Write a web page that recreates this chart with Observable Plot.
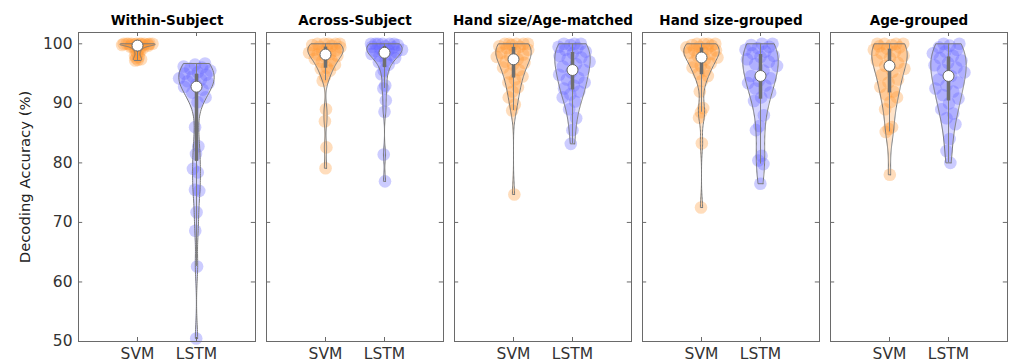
<!DOCTYPE html>
<html><head><meta charset="utf-8">
<script src="https://cdn.jsdelivr.net/npm/d3@7"></script>
<script src="https://cdn.jsdelivr.net/npm/@observablehq/plot@0.6"></script>
<style>
body{margin:0;background:#fff;}
#chart{width:1009px;height:363px;overflow:hidden;}
</style>
</head><body><div id="chart"></div>
<script>
// ---- data ----
const panels = ["Within-Subject", "Across-Subject", "Hand size/Age-matched", "Hand size-grouped", "Age-grouped"];
const methods = ["SVM", "LSTM"];
const yTicks = [50, 60, 70, 80, 90, 100];
const methodColors = ["#FF9933", "#6464FF"];

const withinSVM = [100,100,100,100,100,100,100,100,100,100,99.9,99.9,99.8,99.8,99.7,99.7,99.6,99.5,99.4,99.3,99.2,99,98.8,98.6,98.3,98,97.8,97.6,97.4,97.3,97.2];
const withinLSTM = [96.7,96.5,96.2,96,95.8,95.5,95.2,95,94.8,94.5,94.2,94,93.7,93.4,93.1,92.8,92.3,91.8,91,90.2,86,82.8,81.5,79,78.4,75.5,75.3,71.7,68.6,62.6,50.5];
const acrossSVM = [100,100,100,100,100,99.8,99.7,99.5,99.4,99.2,99,98.9,98.7,98.5,98.3,98.2,98,97.8,97.5,97.2,97,96.5,96,95.8,95.5,94.5,93.8,89,87,82.6,79.1];
const acrossLSTM = [100,100,100,100,100,100,99.8,99.6,99.5,99.4,99.2,99,98.9,98.8,98.6,98.5,98.3,98.2,98,97.6,97.2,96.9,96.5,95.5,94.9,93,92.5,90.5,88.6,81.4,76.9];
const matchedSVM = [100,100,100,100,100,99.8,99.6,99.5,99.3,99,98.8,98.5,98.2,98,97.8,97.4,97,96.8,96.5,96,95.6,95,94.5,94,93.5,92.7,92,91,89.8,88.8,74.7];
const matchedLSTM = [100,100,100,99.8,99.5,99.3,99,98.7,98.4,98,97.7,97.4,97,96.6,96.2,95.6,95.2,94.8,94.3,94,93.5,93,92.5,92,91.5,91,90.3,89,87.5,85.5,83.2];
const handSVM = [100,100,100,100,99.8,99.7,99.5,99.4,99.2,99,98.9,98.7,98.5,98.3,98,97.7,97.4,97,96.7,96.3,96,95.5,95,94.6,93.8,92,89.2,88.5,87.6,83.3,72.5];
const handLSTM = [100,100,99.8,99.5,99.3,99,98.7,98.4,98,97.8,97.4,97,96.6,96.3,95.5,94.6,94.2,93.8,93.4,93,92.5,91.8,91,90.4,88,86.2,85.5,81.2,80.4,79.8,76.5];
const ageSVM = [100,100,100,100,99.8,99.6,99.4,99.2,99,98.7,98.4,98,97.6,97.2,96.8,96.3,95.8,95.3,94.8,94,93.5,92.8,92,91.5,91,90.2,89,86,85.7,85.2,78];
const ageLSTM = [100,100,99.7,99.4,99,98.7,98.4,98,97.6,97.2,96.8,96.4,96,95.6,95.2,94.6,94,93.5,93,92.5,92,91.4,90.8,90,89,88.3,87.5,86.5,84,82,80];

const groups = [
  [withinSVM, withinLSTM],
  [acrossSVM, acrossLSTM],
  [matchedSVM, matchedLSTM],
  [handSVM, handLSTM],
  [ageSVM, ageLSTM]
];

// ---- derived (KDE violins, jitter, box stats) ----
const violinWidth = 0.3;
function bandwidth(v) {
  const med = d3.median(v);
  let sig = d3.median(v, x => Math.abs(x - med)) / 0.6745;
  if (!(sig > 0)) sig = (d3.max(v) - d3.min(v)) || 1;
  return sig * Math.pow(4 / (3 * v.length), 0.2);
}
function kde(v, bw) {
  return y => d3.mean(v, x => Math.exp(-0.5 * ((y - x) / bw) ** 2)) / bw;
}

const points = [], areaRows = [], outlineRows = [], stats = [];
groups.forEach((pair, pi) => {
  pair.forEach((vals, mi) => {
    const panel = panels[pi], method = methods[mi], pos = mi + 1, key = panel + "|" + method;
    const bw = bandwidth(vals);
    const f = kde(vals, bw);
    const lo = d3.min(vals), hi = d3.max(vals);
    const N = 120;
    const grid = d3.range(N + 1).map(i => lo + (hi - lo) * i / N);
    const dens = grid.map(f);
    const dmax = d3.max(dens);
    const hw = y => f(y) / dmax * violinWidth;
    grid.forEach((y, i) => {
      const w = dens[i] / dmax * violinWidth;
      areaRows.push({panel, method, key, y, xl: pos - w, xr: pos + w});
    });
    const right = grid.map((y, i) => ({panel, key, y, x: pos + dens[i] / dmax * violinWidth}));
    const left = grid.map((y, i) => ({panel, key, y, x: pos - dens[i] / dmax * violinWidth})).reverse();
    outlineRows.push(...right, ...left, right[0]);
    vals.forEach((v, i) => {
      const u = ((i + 1) * 0.6180339887 + pi * 0.37 + mi * 0.21) % 1;
      points.push({panel, method, value: v, x: pos + (2 * u - 1) * hw(v)});
    });
    const s = vals.slice().sort(d3.ascending);
    const q1 = d3.quantile(s, 0.25), q3 = d3.quantile(s, 0.75), iqr = q3 - q1;
    const wlo = d3.min(s.filter(v => v >= q1 - 1.5 * iqr));
    const whi = d3.max(s.filter(v => v <= q3 + 1.5 * iqr));
    stats.push({panel, method, pos, q1, q3, wlo, whi, median: d3.median(s)});
  });
});

// ---- layout ----
const W = 1009, H = 363, mL = 77, mR = 2, mT = 32, mB = 22, padIn = 0.061;
const FW = (W - mL - mR) / (panels.length - padIn) * (1 - padIn);
const FH = H - mT - mB;
const tickLen = 4;
const axisColor = "#6a6a6a";

const plot = Plot.plot({
  width: W, height: H,
  marginLeft: mL, marginRight: mR, marginTop: mT, marginBottom: mB,
  style: {fontFamily: "'DejaVu Sans', Verdana, sans-serif", fontSize: "15px", color: "#2a2a2a", background: "#fff"},
  fx: {domain: panels, paddingInner: padIn, paddingOuter: 0, label: null},
  x: {domain: [0, 3]},
  y: {domain: [50, 101.9]},
  color: {domain: methods, range: methodColors},
  marks: [
    Plot.areaX(areaRows, {y: "y", x1: "xl", x2: "xr", z: "key", fx: "panel", fill: "method", fillOpacity: 0.27, curve: "linear"}),
    Plot.dot(points, {x: "x", y: "value", fx: "panel", fill: "method", r: 6.3, fillOpacity: 0.33, stroke: "none"}),
    Plot.line(outlineRows, {x: "x", y: "y", z: "key", fx: "panel", stroke: "#7a7a7a", strokeWidth: 1, curve: "linear"}),
    Plot.ruleX(stats, {x: "pos", y1: "wlo", y2: "whi", fx: "panel", stroke: "#808080", strokeWidth: 1}),
    Plot.ruleX(stats, {x: "pos", y1: "q1", y2: "q3", fx: "panel", stroke: "#6e6e6e", strokeWidth: 3.5}),
    Plot.dot(stats, {x: "pos", y: "median", fx: "panel", r: 5.5, fill: "white", stroke: "#666", strokeWidth: 1}),
    Plot.frame({stroke: axisColor}),
    Plot.tickY(yTicks, {y: d => d, insetRight: FW - tickLen, stroke: axisColor}),
    Plot.tickY(yTicks, {y: d => d, insetLeft: FW - tickLen, stroke: axisColor}),
    Plot.tickX([1, 2], {x: d => d, insetTop: FH - tickLen, stroke: axisColor}),
    Plot.tickX([1, 2], {x: d => d, insetBottom: FH - tickLen, stroke: axisColor}),
    Plot.axisY({ticks: yTicks, tickSize: 0, tickPadding: 6, label: null, fontSize: 15.5, fill: "#333"}),
    Plot.axisX({ticks: [1, 2], tickFormat: d => methods[d - 1], tickSize: 0, tickPadding: 6, label: null, fontSize: 15.5, fill: "#333"}),
    Plot.axisFx({anchor: "top", tickSize: 0, tickPadding: 8, label: null, fontWeight: "bold", fontSize: 13.5, fill: "#000"}),
    Plot.text(["Decoding Accuracy (%)"], {text: d => d, fx: [panels[0]], frameAnchor: "left", textAnchor: "middle", lineAnchor: "middle", rotate: -90, dx: -53, dy: -10, fontSize: 14.8, fill: "#222"})
  ]
});
document.getElementById("chart").append(plot);
</script>
</body></html>
